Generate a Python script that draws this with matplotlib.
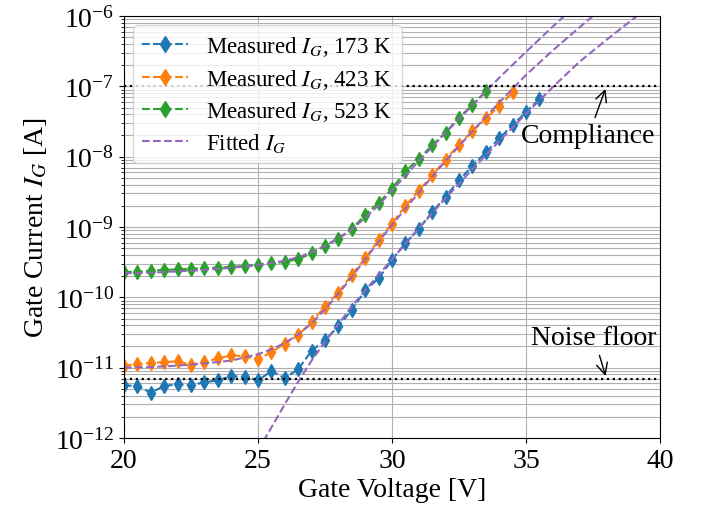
import matplotlib
matplotlib.use("Agg")
import matplotlib.pyplot as plt
import numpy as np

plt.rcParams["font.family"] = "serif"
plt.rcParams["font.serif"] = ["Liberation Serif", "DejaVu Serif"]
plt.rcParams["mathtext.fontset"] = "stix"

# measured gate current [A], 0.5 V steps starting at 20 V
v_173 = np.arange(20, 35.51, 0.5)
ig_173 = [5.6e-12, 5.5e-12, 4.4e-12, 5.5e-12, 5.8e-12, 5.6e-12, 6.2e-12, 6.6e-12,
          7.6e-12, 7.4e-12, 6.6e-12, 8.9e-12, 7.1e-12, 9.5e-12, 1.74e-11, 2.45e-11,
          3.9e-11, 6.6e-11, 1.26e-10, 1.86e-10, 3.4e-10, 5.9e-10, 9.5e-10, 1.62e-9,
          2.7e-9, 4.6e-9, 7.4e-9, 1.15e-8, 1.82e-8, 2.8e-8, 4.3e-8, 6.6e-8]

v_423 = np.arange(20, 34.51, 0.5)
ig_423 = [1.07e-11, 1.12e-11, 1.17e-11, 1.2e-11, 1.23e-11, 1.1e-11, 1.2e-11, 1.35e-11,
          1.5e-11, 1.45e-11, 1.32e-11, 1.66e-11, 2.2e-11, 2.9e-11, 4.5e-11, 7.4e-11,
          1.17e-10, 2.1e-10, 3.6e-10, 6.5e-10, 1.12e-9, 2.0e-9, 3.3e-9, 5.4e-9,
          9.1e-9, 1.48e-8, 2.3e-8, 3.5e-8, 5.2e-8, 8.2e-8]

v_523 = np.arange(20, 33.51, 0.5)
ig_523 = [2.3e-10, 2.3e-10, 2.4e-10, 2.45e-10, 2.5e-10, 2.55e-10, 2.6e-10, 2.65e-10,
          2.7e-10, 2.8e-10, 2.9e-10, 3.05e-10, 3.2e-10, 3.5e-10, 4.2e-10, 5.4e-10,
          6.8e-10, 9.3e-10, 1.5e-9, 2.2e-9, 3.5e-9, 6.2e-9, 9.3e-9, 1.45e-8,
          2.2e-8, 3.6e-8, 5.4e-8, 8.5e-8]

# fitted curves
fit_v = [20, 21, 22, 23, 24, 25, 25.5, 26, 26.5, 27, 27.5, 28, 28.5, 29, 29.5, 30,
         31, 32, 33, 34, 35, 36, 37, 38, 39, 40]
fit_423 = [1.0e-11, 1.02e-11, 1.07e-11, 1.15e-11, 1.26e-11, 1.55e-11, 1.82e-11,
           2.24e-11, 2.95e-11, 4.27e-11, 6.76e-11, 1.12e-10, 1.95e-10, 3.47e-10,
           6.17e-10, 1.07e-9, 3.09e-9, 8.71e-9, 2.29e-8, 5.89e-8, 1.45e-7, 3.24e-7,
           6.92e-7, 1.45e-6, 2.88e-6, 5.62e-6]
fit_523 = [2.2e-10, 2.24e-10, 2.34e-10, 2.45e-10, 2.63e-10, 2.88e-10, 3.09e-10,
           3.31e-10, 3.72e-10, 4.37e-10, 5.37e-10, 6.92e-10, 9.33e-10, 1.35e-9,
           2.04e-9, 3.31e-9, 8.71e-9, 2.19e-8, 5.37e-8, 1.32e-7, 3.09e-7, 7.08e-7,
           1.58e-6, 3.39e-6, 7.08e-6, 1.41e-5]
fit_v_173 = [25, 25.5, 26, 26.5, 27, 27.5, 28, 28.5, 29, 29.5, 30, 31, 32, 33, 34,
             35, 36, 37, 38, 39, 40]
fit_173 = [6.6e-13, 1.41e-12, 3.02e-12, 6.31e-12, 1.26e-11, 2.34e-11, 4.17e-11,
           7.41e-11, 1.26e-10, 2.09e-10, 3.47e-10, 9.55e-10, 2.57e-9, 6.61e-9,
           1.66e-8, 4.07e-8, 9.77e-8, 2.24e-7, 4.57e-7, 9.1e-7, 1.78e-6]

compliance = 1e-7
noise_floor = 7e-12

fig = plt.figure(figsize=(7.02, 5.10), dpi=100)
ax = fig.add_axes([124 / 702, 71 / 510, 536 / 702, 422 / 510])

mk = dict(marker="d", ms=7, ls="--", lw=1.5)
ax.plot(v_173, ig_173, color="C0", label=r"Measured $I_G$, 173 K", **mk)
ax.plot(v_423, ig_423, color="C1", label=r"Measured $I_G$, 423 K", **mk)
ax.plot(v_523, ig_523, color="C2", label=r"Measured $I_G$, 523 K", **mk)

ax.plot(fit_v_173, fit_173, "--", color="C4", lw=1.5, label=r"Fitted $I_G$")
ax.plot(fit_v, fit_423, "--", color="C4", lw=1.5)
ax.plot(fit_v, fit_523, "--", color="C4", lw=1.5)

ax.axhline(compliance, color="k", ls=":", lw=1.6)
ax.axhline(noise_floor, color="k", ls=":", lw=1.6)

ax.annotate("Compliance", xy=(38, compliance), xytext=(37.33, 2.0e-8),
            ha="center", va="center", fontsize=20,
            arrowprops=dict(arrowstyle="->", color="k"))
ax.annotate("Noise floor", xy=(38, noise_floor), xytext=(37.54, 2.7e-11),
            ha="center", va="center", fontsize=20,
            arrowprops=dict(arrowstyle="->", color="k"))

ax.set_yscale("log")
ax.set_xlim(20, 40)
ax.set_ylim(1e-12, 1e-6)
ax.set_xticks([20, 25, 30, 35, 40])
ax.grid(True, which="both", color="#b0b0b0", lw=0.8)
ax.tick_params(labelsize=20)
ax.set_xlabel("Gate Voltage [V]", fontsize=20, labelpad=3)
ax.set_ylabel(r"Gate Current $I_G$ [A]", fontsize=20)
ax.legend(loc="upper left", fontsize=16.5, labelspacing=0.36, borderaxespad=0.4,
          markerscale=1.1)

fig.savefig("out.png", dpi=100)
